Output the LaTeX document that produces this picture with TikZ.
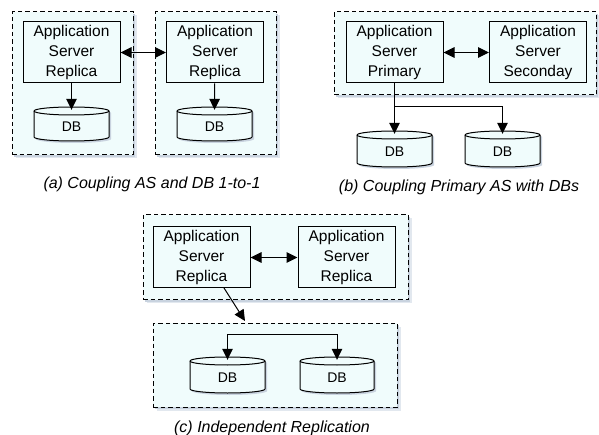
\documentclass[tikz,border=0pt]{standalone}
\usepackage{fontspec}
\setmainfont{Liberation Sans}
\usetikzlibrary{arrows.meta}
\definecolor{bgc}{HTML}{F0FCFC}
\definecolor{shadowc}{HTML}{C9D3DF}
\definecolor{shadowd}{HTML}{E2E8EF}
\tikzset{
  grp/.style={draw, dash pattern=on 4.5pt off 3pt, line width=1pt, fill=bgc,
    preaction={fill=shadowd, transform canvas={shift={(3.5pt,-3.5pt)}}},
    preaction={fill=shadowc, transform canvas={shift={(2pt,-2pt)}}}},
  asbox/.style={draw, line width=1pt, fill=bgc, align=center,
    font=\fontsize{15.5}{20}\selectfont, inner sep=0pt, minimum width=97pt, minimum height=61pt},
  dblabel/.style={draw=none, inner sep=0pt, font=\fontsize{14}{16}\selectfont},
  dbline/.style={line width=1pt, draw=black, fill=bgc},
  conn/.style={line width=1pt, -{Triangle[length=11pt,width=10.5pt]}},
  dconn/.style={line width=1pt, {Triangle[length=11pt,width=10.5pt]}-{Triangle[length=11pt,width=10.5pt]}},
  captxt/.style={font=\fontsize{16}{18}\selectfont\itshape, inner sep=0pt},
}
% cylinder: name, x1, y1, x2, y2
\newcommand\dbcyl[5]{%
  \pgfmathsetmacro\cxx{(#2+#4)/2}%
  \pgfmathsetmacro\kx{0.5523*(#4-#2)/2}%
  \pgfmathsetmacro\tyy{#3+4}%
  \pgfmathsetmacro\byy{#5-4}%
  \fill[shadowc, shift={(2,2)}] (#2,\tyy) -- (#2,\byy) .. controls (#2,\byy+2.21) and (\cxx-\kx,#5) .. (\cxx,#5) .. controls (\cxx+\kx,#5) and (#4,\byy+2.21) .. (#4,\byy) -- (#4,\tyy) .. controls (#4,\tyy-2.21) and (\cxx+\kx,#3) .. (\cxx,#3) .. controls (\cxx-\kx,#3) and (#2,\tyy-2.21) .. (#2,\tyy) -- cycle;
  \filldraw[dbline] (#2,\tyy) -- (#2,\byy) .. controls (#2,\byy+2.21) and (\cxx-\kx,#5) .. (\cxx,#5) .. controls (\cxx+\kx,#5) and (#4,\byy+2.21) .. (#4,\byy) -- (#4,\tyy) .. controls (#4,\tyy-2.21) and (\cxx+\kx,#3) .. (\cxx,#3) .. controls (\cxx-\kx,#3) and (#2,\tyy-2.21) .. (#2,\tyy) -- cycle;
  \draw[line width=1pt] (#2,\tyy) .. controls (#2,\tyy+2.21) and (\cxx-\kx,\tyy+4) .. (\cxx,\tyy+4) .. controls (\cxx+\kx,\tyy+4) and (#4,\tyy+2.21) .. (#4,\tyy);
  \node[dblabel, minimum width={#4-#2}, minimum height={#5-#3}] (#1) at (\cxx,{(#3+#5)/2+3}) {DB};
}
\begin{document}
\begin{tikzpicture}[x=1pt,y=-1pt]
\useasboundingbox (0,0) rectangle (599,435);

% ---------- (a)
\node[grp, minimum width=121pt, minimum height=143pt, inner sep=0pt] (ga1) at (72.5,83.5) {};
\node[grp, minimum width=121pt, minimum height=143pt, inner sep=0pt] (ga2) at (215.5,83.5) {};
\node[asbox] (as1) at (71.5,52.5) {Application\\Server\\Replica};
\node[asbox] (as2) at (215,52.5) {Application\\Server\\Replica};
\dbcyl{db1}{34}{107}{109}{141}
\dbcyl{db2}{177}{107}{252}{141}
\draw[conn] (as1) -- (db1.north);
\draw[conn] (as2) -- (db2.north);
\draw[dconn] (as1.east) -- (as2.west);
\node[captxt] (capa) at (152,184) {(a) Coupling AS and DB 1-to-1};

% ---------- (b)
\node[grp, minimum width=262pt, minimum height=83pt, inner sep=0pt] (gb) at (465,53.5) {};
\node[asbox] (asp) at (394.5,52.5) {Application\\Server\\Primary};
\node[asbox] (ass) at (538,52.5) {Application\\Server\\Seconday};
\draw[dconn] (asp.east) -- (ass.west);
\dbcyl{db3}{357}{131}{432}{167}
\dbcyl{db4}{465}{131}{540}{167}
\coordinate (brb) at (394.5,107);
\draw[conn] (asp.south) -- (db3.north);
\draw[conn] (brb) -| (db4.north);
\node[captxt] (capb) at (459,187) {(b) Coupling Primary AS with DBs};

% ---------- (c)
\node[grp, minimum width=265pt, minimum height=85pt, inner sep=0pt] (gc1) at (275.5,257.5) {};
\node[grp, minimum width=244pt, minimum height=84pt, inner sep=0pt] (gc2) at (275,365) {};
\node[asbox] (as5) at (201.5,257.5) {Application\\Server\\Replica};
\node[asbox] (as6) at (346.5,257.5) {Application\\Server\\Replica};
\draw[dconn] (as5.east) -- (as6.west);
\coordinate (dstart) at (224,288);
\coordinate (dend) at (245,321);
\draw[conn] (dstart) -- (dend);
\dbcyl{db5}{190}{357}{265}{393}
\dbcyl{db6}{300}{357}{374}{393}
\coordinate (brc) at (227.5,334);
\draw[conn] (brc) -- (db5.north);
\draw[conn] (brc) -| (db6.north);
\node[captxt] (capc) at (272,428) {(c) Independent Replication};
\end{tikzpicture}
\end{document}
